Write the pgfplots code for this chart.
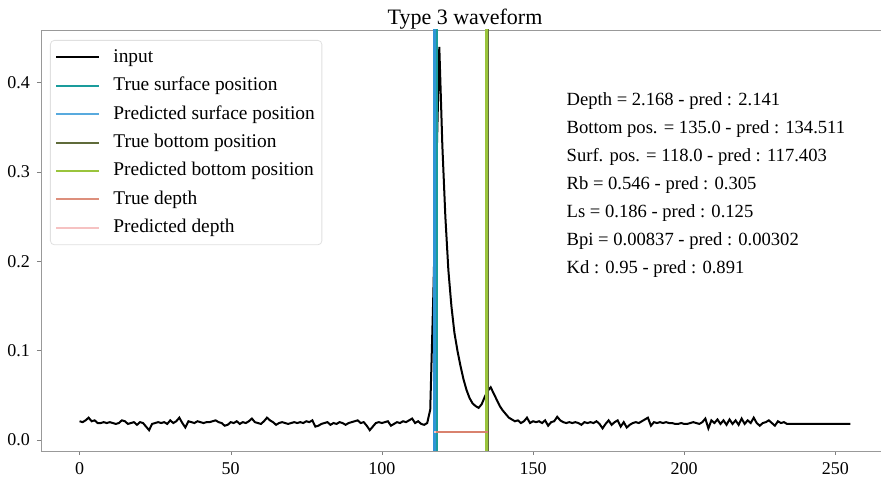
\documentclass[border=0pt]{standalone}
\usepackage{fontspec}
\setmainfont{Liberation Serif}
\usepackage{pgfplots}
\pgfplotsset{compat=1.18}

\definecolor{trueSurf}{HTML}{1A9C9C}
\definecolor{predSurf}{HTML}{2F95D6}
\definecolor{trueBot}{HTML}{5F6B3A}
\definecolor{predBot}{HTML}{9AC43C}
\definecolor{trueDep}{HTML}{D9826E}
\definecolor{predDep}{HTML}{F6C2C2}

\begin{document}
\begin{tikzpicture}
\begin{axis}[
  name=ax,
  scale only axis,
  width=424pt, height=210.5pt,
  xmin=-12.75, xmax=267.75,
  ymin=-0.0123, ymax=0.459,
  axis x line*=box, axis y line*=left,
  axis line style={black!40},
  xtick={0,50,100,150,200,250},
  ytick={0,0.1,0.2,0.3,0.4},
  xtick pos=bottom, ytick pos=left,
  tick align=outside,
  major tick length=2pt,
  tick style={black!50},
  y tick label style={/pgf/number format/.cd, fixed, fixed zerofill, precision=1},
  /pgf/number format/assume math mode=true,
  ticklabel style={font=\fontsize{9}{10}\selectfont},
  title={Type 3 waveform},
  title style={inner sep=0pt, yshift=-6pt, font=\fontsize{11}{13}\selectfont},
  legend image code/.code={\draw[#1] (0pt,0pt) -- (21.5pt,0pt);},
  legend cell align=left,
  legend style={at={(0,1)}, anchor=north west, xshift=4.5pt, yshift=-5pt,
    draw=black!12, rounded corners=2pt, fill=white,
    font=\fontsize{9.7}{12}\selectfont,
    inner xsep=2.5pt, inner ysep=3pt,
    row sep=3.2pt, column sep=5.5pt,
    nodes={inner sep=1pt, text height=7pt, text depth=2pt}},
]
\addlegendimage{black, line width=1pt}
\addlegendentry{input}
\addlegendimage{trueSurf, line width=1pt}
\addlegendentry{True surface position}
\addlegendimage{predSurf!80, line width=1pt}
\addlegendentry{Predicted surface position}
\addlegendimage{trueBot, line width=1pt}
\addlegendentry{True bottom position}
\addlegendimage{predBot, line width=1pt}
\addlegendentry{Predicted bottom position}
\addlegendimage{trueDep!90, line width=1pt}
\addlegendentry{True depth}
\addlegendimage{predDep, line width=1pt}
\addlegendentry{Predicted depth}

% waveform
\addplot[black, line width=1pt, forget plot] coordinates {
(0,.021)(1,.020)(2,.022)(3,.025)(4,.021)(5,.022)(6,.019)(7,.019)(8,.020)(9,.019)
(10,.020)(11,.019)(12,.018)(13,.019)(14,.022)(15,.021)(16,.018)(17,.019)(18,.020)(19,.017)
(20,.020)(21,.019)(22,.015)(23,.011)(24,.018)(25,.019)(26,.020)(27,.019)(28,.020)(29,.018)
(30,.022)(31,.019)(32,.021)(33,.025)(34,.019)(35,.014)(36,.021)(37,.020)(38,.019)(39,.021)
(40,.020)(41,.019)(42,.020)(43,.020)(44,.021)(45,.022)(46,.020)(47,.019)(48,.016)(49,.017)
(50,.020)(51,.019)(52,.021)(53,.018)(54,.020)(55,.019)(56,.021)(57,.024)(58,.020)(59,.019)
(60,.018)(61,.021)(62,.025)(63,.022)(64,.020)(65,.017)(66,.019)(67,.020)(68,.019)(69,.018)
(70,.019)(71,.020)(72,.019)(73,.020)(74,.019)(75,.021)(76,.020)(77,.022)(78,.015)(79,.016)
(80,.018)(81,.019)(82,.020)(83,.017)(84,.019)(85,.018)(86,.020)(87,.019)(88,.017)(89,.019)
(90,.020)(91,.021)(92,.022)(93,.019)(94,.020)(95,.016)(96,.011)(97,.015)(98,.019)(99,.020)
(100,.019)(101,.020)(102,.021)(103,.016)(104,.018)(105,.020)(106,.019)(107,.021)(108,.020)(109,.022)
(110,.024)(111,.019)(112,.021)(113,.018)(114,.017)(115,.019)(116,.034)(117,.160)(118,.300)(119,.440)
(120,.330)(121,.250)(122,.190)(123,.150)(124,.120)(125,.100)(126,.083)(127,.068)(128,.056)(129,.047)
(130,.041)(131,.038)(132,.036)(133,.040)(134,.048)(135,.055)(136,.059)(137,.052)(138,.045)(139,.038)
(140,.033)(141,.029)(142,.025)(143,.023)(144,.021)(145,.022)(146,.019)(147,.021)(148,.025)(149,.019)
(150,.021)(151,.020)(152,.021)(153,.019)(154,.022)(155,.016)(156,.020)(157,.021)(158,.026)(159,.022)
(160,.020)(161,.019)(162,.020)(163,.019)(164,.020)(165,.019)(166,.017)(167,.020)(168,.019)(169,.020)
(170,.019)(171,.021)(172,.018)(173,.013)(174,.018)(175,.022)(176,.017)(177,.020)(178,.022)(179,.015)
(180,.020)(181,.014)(182,.017)(183,.019)(184,.020)(185,.019)(186,.021)(187,.023)(188,.025)(189,.016)
(190,.020)(191,.019)(192,.020)(193,.019)(194,.020)(195,.019)(196,.019)(197,.018)(198,.018)(199,.019)
(200,.018)(201,.018)(202,.019)(203,.020)(204,.019)(205,.018)(206,.020)(207,.024)(208,.013)(209,.022)
(210,.019)(211,.023)(212,.018)(213,.022)(214,.017)(215,.023)(216,.018)(217,.022)(218,.017)(219,.024)
(220,.018)(221,.022)(222,.019)(223,.025)(224,.019)(225,.016)(226,.019)(227,.020)(228,.022)(229,.019)
(230,.016)(231,.021)(232,.019)(233,.020)(234,.018)(255,.018)
};

% surface and bottom positions
\addplot[trueSurf, line width=1.5pt, forget plot] coordinates {(118,-1)(118,1)};
\addplot[predSurf, line width=1.5pt, forget plot] coordinates {(117.403,-1)(117.403,1)};
\addplot[trueBot, line width=1.5pt, forget plot] coordinates {(135,-1)(135,1)};
\addplot[predBot, line width=1.7pt, forget plot] coordinates {(134.511,-1)(134.511,1)};

% depth
\addplot[predDep, line width=1pt, forget plot] coordinates {(117.403,0.009)(134.511,0.009)};
\addplot[trueDep, line width=1pt, forget plot] coordinates {(118,0.009)(135,0.009)};

\node[anchor=north west, align=left, inner sep=0pt, font=\fontsize{9.3}{14}\selectfont]
  at (axis cs:161,0.389) {Depth = 2.168 - pred : 2.141\\
Bottom pos. = 135.0 - pred : 134.511\\
Surf. pos. = 118.0 - pred : 117.403\\
Rb = 0.546 - pred : 0.305\\
Ls = 0.186 - pred : 0.125\\
Bpi = 0.00837 - pred : 0.00302\\
Kd : 0.95 - pred : 0.891};
\end{axis}
\pgfresetboundingbox
\path[use as bounding box] ([xshift=-20.5pt,yshift=-13pt]ax.south west) rectangle ([xshift=420pt,yshift=15pt]ax.north west);
\end{tikzpicture}
\end{document}
